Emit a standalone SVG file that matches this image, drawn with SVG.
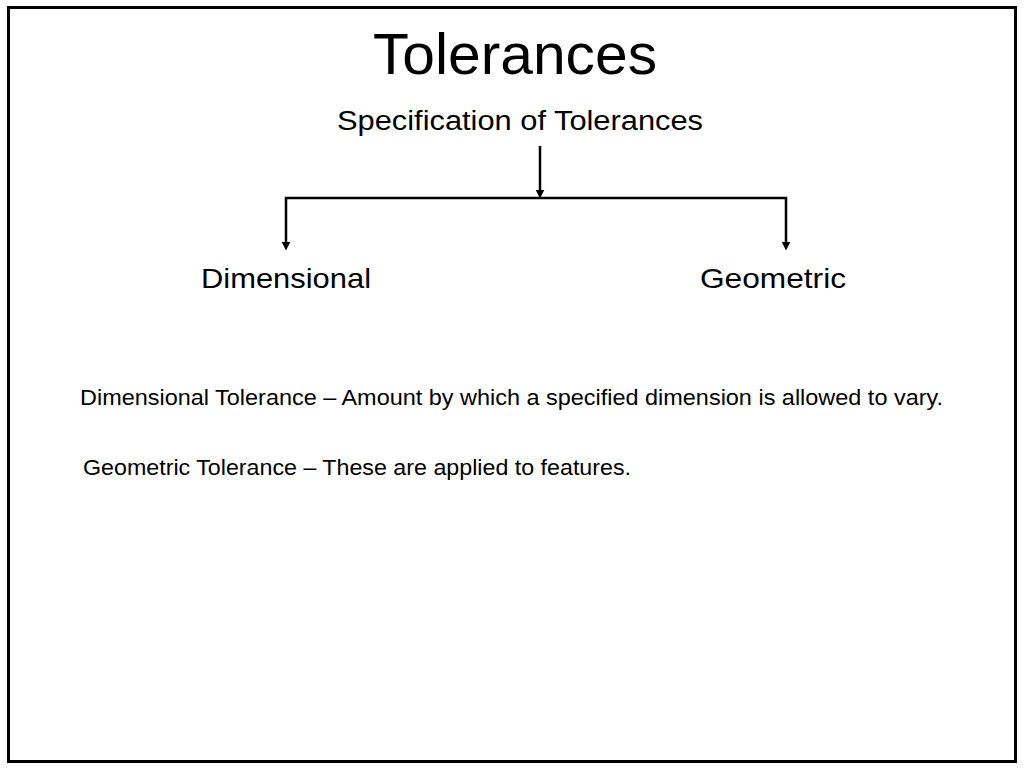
<svg xmlns="http://www.w3.org/2000/svg" width="1024" height="768" viewBox="0 0 1024 768">
<defs>
<marker id="ah" markerWidth="9" markerHeight="9" refX="4.5" refY="4.5" orient="auto" markerUnits="userSpaceOnUse"><path d="M0,0 L9,4.5 L0,9 z" fill="#000"/></marker>
<style>
.t{font-family:"Liberation Sans",Arial,sans-serif;fill:#000}
.c{stroke:#000;stroke-width:2.5;fill:none}
</style>
</defs>
<rect x="0" y="0" width="1024" height="768" fill="#fff"/>
<rect x="8.5" y="7.5" width="1007" height="754" fill="none" stroke="#000" stroke-width="3"/>
<text class="t" x="515" y="74" font-size="58" text-anchor="middle" textLength="284" lengthAdjust="spacingAndGlyphs">Tolerances</text>
<g id="spec"><text class="t" x="337" y="130" font-size="27" textLength="366" lengthAdjust="spacingAndGlyphs">Specification of Tolerances</text></g>
<g id="dim"><text class="t" x="201" y="288" font-size="28" textLength="170" lengthAdjust="spacingAndGlyphs">Dimensional</text></g>
<g id="geo"><text class="t" x="700" y="288" font-size="28" textLength="146" lengthAdjust="spacingAndGlyphs">Geometric</text></g>
<g id="connectors">
<path class="c" d="M540,146 V194" marker-end="url(#ah)"/>
<path class="c" d="M286,246 V198 H786 V246" />
<path class="c" d="M286,245 V246" marker-end="url(#ah)"/>
<path class="c" d="M786,245 V246" marker-end="url(#ah)"/>
</g>
<text class="t" x="80" y="405" font-size="22" textLength="863" lengthAdjust="spacingAndGlyphs">Dimensional Tolerance – Amount by which a specified dimension is allowed to vary.</text>
<text class="t" x="83" y="475" font-size="22" textLength="548" lengthAdjust="spacingAndGlyphs">Geometric Tolerance – These are applied to features.</text>
</svg>
